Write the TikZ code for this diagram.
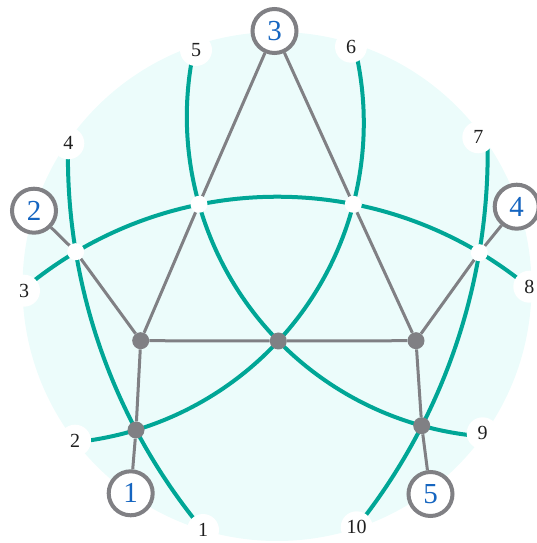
\documentclass[tikz,border=0pt]{standalone}
\usepackage{fontspec}
\setmainfont{Liberation Serif}
\definecolor{tealc}{RGB}{0,166,150}
\definecolor{grayc}{RGB}{128,128,132}
\definecolor{bgc}{RGB}{236,252,251}
\definecolor{bluec}{RGB}{21,101,192}
\pgfdeclarelayer{back}
\pgfdeclarelayer{mid}
\pgfsetlayers{back,mid,main}
\begin{document}
\begin{tikzpicture}[x=1pt,y=1pt,
  arcline/.style={draw=tealc, line width=4pt},
  edgeline/.style={draw=grayc, line width=3pt},
  lab/.style={circle, fill=white, minimum size=32pt, inner sep=0pt,
    font=\fontsize{20}{20}\selectfont, text=black!88},
  outer/.style={circle, draw=grayc, line width=4pt, fill=white, minimum size=44pt,
    inner sep=0pt, font=\fontsize{29}{29}\selectfont, text=bluec},
  cross/.style={circle, fill=white, minimum size=17pt, inner sep=0pt},
  dot/.style={circle, fill=grayc, minimum size=17pt, inner sep=0pt}]
\useasboundingbox (0,0) rectangle (536,543);

% end labels of the pseudolines
\node[lab] (l1) at (203,13) {1};
\node[lab] (l2) at (75,102.3) {2};
\node[lab] (l3) at (24,252.3) {3};
\node[lab] (l4) at (68.3,399.7) {4};
\node[lab] (l5) at (196,493) {5};
\node[lab] (l6) at (351,496.3) {6};
\node[lab] (l7) at (478.3,405.7) {7};
\node[lab] (l8) at (529.3,256.3) {8};
\node[lab] (l9) at (482.7,109.7) {9};
\node[lab] (l10) at (356.7,15.7) {10};

% outer circled nodes
\node[outer] (o1) at (130.7,49.7) {1};
\node[outer] (o2) at (34,332.3) {2};
\node[outer] (o3) at (274.5,512) {3};
\node[outer] (o4) at (516.7,336.3) {4};
\node[outer] (o5) at (430.5,49) {5};

% white crossings
\node[cross] (w1) at (75.7,291.3) {};
\node[cross] (w2) at (199,338.7) {};
\node[cross] (w3) at (353.3,338.7) {};
\node[cross] (w4) at (479.3,290.3) {};

% gray vertices
\node[dot] (g1) at (140.7,202.3) {};
\node[dot] (g2) at (278.3,202) {};
\node[dot] (g3) at (416,202.3) {};
\node[dot] (g4) at (136,113) {};
\node[dot] (g5) at (421.7,117.3) {};

\begin{pgfonlayer}{back}
  \fill[bgc] (277,256.5) circle[radius=254.5pt];
  % pseudolines
  \draw[arcline] ([shift={(652.7,386.8)}]179:584.8pt) arc[start angle=179, end angle=219.7, radius=584.8pt];
  \draw[arcline] ([shift={(507.5,426.3)}]167.6:320.7pt) arc[start angle=167.6, end angle=265.5, radius=320.7pt];
  \draw[arcline] ([shift={(43.0,420.0)}]13.9:320.8pt) arc[start angle=13.9, end angle=-84.25, radius=320.8pt];
  \draw[arcline] ([shift={(-112.8,390.4)}]1.5:600.5pt) arc[start angle=1.5, end angle=-38.6, radius=600.5pt];
  \draw[arcline] ([shift={(277.3,-48.3)}]130.1:394.6pt) arc[start angle=130.1, end angle=50.4, radius=394.6pt];
\end{pgfonlayer}

\begin{pgfonlayer}{mid}
  \draw[edgeline] (o1) -- (g4) -- (g1);
  \draw[edgeline] (o2) -- (w1) -- (g1);
  \draw[edgeline] (o3) -- (w2) -- (g1);
  \draw[edgeline] (o3) -- (w3) -- (g3);
  \draw[edgeline] (o4) -- (w4) -- (g3);
  \draw[edgeline] (g1) -- (g2) -- (g3);
  \draw[edgeline] (g3) -- (g5) -- (o5);
\end{pgfonlayer}
\end{tikzpicture}
\end{document}
